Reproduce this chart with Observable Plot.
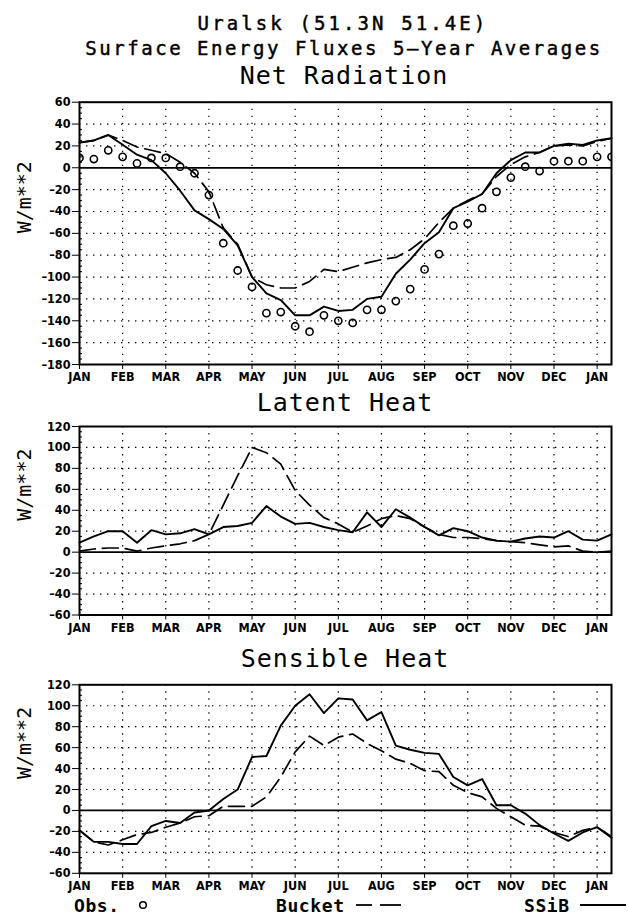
<!DOCTYPE html>
<html><head><meta charset="utf-8">
<script src="https://cdn.jsdelivr.net/npm/d3@7"></script>
<script src="https://cdn.jsdelivr.net/npm/@observablehq/plot@0.6"></script>
<style>
body{margin:0;background:#fff;}
#root{position:relative;width:628px;height:919px;overflow:hidden;background:#fff;}
#root > div.p{position:absolute;left:0;}
#overlay{position:absolute;left:0;top:0;pointer-events:none;}
</style></head>
<body><div id="root">
<div class="p" id="p1" style="top:91px"></div>
<div class="p" id="p2" style="top:416px"></div>
<div class="p" id="p3" style="top:674px"></div>
<svg id="overlay" width="628" height="919" xmlns="http://www.w3.org/2000/svg">
  <g font-family="'DejaVu Sans Mono', monospace" fill="#000" text-anchor="middle">
    <text x="343" y="30" font-size="19" stroke="#000" stroke-width="0.45" letter-spacing="3.1">Uralsk (51.3N 51.4E)</text>
    <text x="344" y="55" font-size="19" stroke="#000" stroke-width="0.45" letter-spacing="2.55">Surface Energy Fluxes 5–Year Averages</text>
    <text x="344" y="84" font-size="25" letter-spacing="1">Net Radiation</text>
    <text x="345" y="411" font-size="25" letter-spacing="1">Latent Heat</text>
    <text x="345" y="667" font-size="25" letter-spacing="1">Sensible Heat</text>
  </g>
  <g font-family="'DejaVu Sans Mono', monospace" font-weight="bold" font-size="18" letter-spacing="0.6" fill="#000">
    <text x="74" y="912">Obs.</text>
    <circle cx="143" cy="905" r="3.3" fill="none" stroke="#000" stroke-width="1.5"/>
    <text x="276" y="912">Bucket</text>
    <line x1="356" y1="905" x2="372" y2="905" stroke="#000" stroke-width="1.8"/>
    <line x1="380" y1="905" x2="401" y2="905" stroke="#000" stroke-width="1.8"/>
    <text x="524" y="912">SSiB</text>
    <line x1="580" y1="905" x2="626" y2="905" stroke="#000" stroke-width="1.8"/>
  </g>
</svg>
</div>
<script>
// dekad index (36 per year), Jan 1 = 0
const dekad = [0,1,2,3,4,5,6,7,8,9,10,11,12,13,14,15,16,17,18,19,20,21,22,23,24,25,26,27,28,29,30,31,32,33,34,35,36,37];
const monthPos = [0,3,6,9,12,15,18,21,24,27,30,33,36];
const monthLabels = ["JAN","FEB","MAR","APR","MAY","JUN","JUL","AUG","SEP","OCT","NOV","DEC","JAN"];

// Net Radiation
const netObs    = [9,8,16,10,4,9,9,1,-5,-25,-69,-94,-109,-133,-132,-145,-150,-135,-140,-142,-130,-130,-122,-111,-93,-79,-53,-51,-37,-22,-9,1,-3,6,6,6,10,10];
const netSSiB   = [23,25,30,21,12,7,-5,-21,-39,-47,-56,-71,-100,-115,-121,-135,-135,-127,-131,-130,-120,-118,-97,-84,-69,-59,-37,-31,-24,-5,7,14,14,20,22,21,25,27];
const netBucket = [23,25,30,25,19,16,13,5,-5,-22,-55,-70,-100,-107,-110,-110,-104,-93,-95,-91,-87,-84,-82,-75,-65,-50,-37,-30,-24,-8,3,10,14,20,21,20,24,27];
const netTicks  = [-180,-160,-140,-120,-100,-80,-60,-40,-20,0,20,40,60];

// Latent Heat
const latSSiB   = [9,15,20,20,9,21,17,18,22,17,24,25,28,44,34,27,28,24,21,19,38,24,41,33,24,16,23,20,14,11,10,13,15,14,20,12,11,17];
const latBucket = [1,3,4,4,1,4,6,8,11,17,45,73,100,95,84,59,45,33,27,19,25,32,35,32,24,17,14,14,13,11,10,9,7,5,6,1,0,1];
const latTicks  = [-60,-40,-20,0,20,40,60,80,100,120];

// Sensible Heat
const senSSiB   = [-19,-30,-30,-32,-32,-15,-10,-12,-2,0,11,20,51,52,81,100,111,93,107,106,86,94,62,58,55,54,32,24,30,5,5,-3,-14,-22,-29,-21,-16,-26];
const senBucket = [-19,-30,-33,-28,-23,-21,-16,-12,-6,-5,4,4,4,13,32,56,71,62,70,73,64,57,49,45,38,37,24,17,13,2,-6,-14,-15,-21,-25,-19,-16,-25];
const senTicks  = [-60,-40,-20,0,20,40,60,80,100,120];

const tickFont = "'Liberation Sans Narrow','DejaVu Sans Condensed','Arial Narrow',sans-serif";
const dots = "1.4,5.6";

function panel({ticks, ssib, bucket, obs, height, marginTop, marginBottom}) {
  const rows = dekad.map((d, i) => ({x: d, ssib: ssib[i], bucket: bucket[i], obs: obs ? obs[i] : null}));
  const lo = ticks[0], hi = ticks[ticks.length - 1];
  const inner = ticks.filter(t => t !== lo && t !== hi && t !== 0);
  const minor = d3.range(lo + 5, hi, 5).filter(v => v % 20 !== 0);
  const marks = [
    Plot.ruleY(inner, {stroke: "#000", strokeWidth: 1.2, strokeDasharray: dots}),
    Plot.ruleX(monthPos.slice(1), {stroke: "#000", strokeWidth: 1.2, strokeDasharray: dots}),
    Plot.ruleY(minor, {x1: 0, x2: 0.2, stroke: "#000", strokeWidth: 1.2}),
    Plot.ruleY([0], {stroke: "#000", strokeWidth: 1.7}),
    Plot.line(rows, {x: "x", y: "bucket", stroke: "#000", strokeWidth: 1.7, strokeDasharray: "16,7"}),
    Plot.line(rows, {x: "x", y: "ssib", stroke: "#000", strokeWidth: 1.9})
  ];
  if (obs) marks.push(Plot.dot(rows, {x: "x", y: "obs", r: 3.6, stroke: "#000", strokeWidth: 1.6, fill: "none", clip: true}));
  marks.push(Plot.frame({stroke: "#000", strokeWidth: 2}));
  marks.push(Plot.text(["W/m**2"], {frameAnchor: "left", dx: -55, rotate: -90, text: d => d,
    fontSize: 20, fontFamily: "'DejaVu Sans Mono', monospace", fontWeight: "normal", fill: "#000"}));
  return Plot.plot({
    width: 628, height, marginLeft: 79, marginRight: 17, marginTop, marginBottom,
    style: {fontFamily: tickFont, fontSize: "12.5px", fontWeight: "bold", color: "#000", background: "#fff"},
    x: {domain: [0, 37], ticks: monthPos, tickFormat: d => monthLabels[monthPos.indexOf(d)], tickSize: 5, tickPadding: 3, label: null},
    y: {domain: [lo, hi], ticks: ticks, tickFormat: d => d < 0 ? "–" + Math.abs(d) : String(d), tickSize: 7, tickPadding: 2, label: null},
    marks
  });
}

document.getElementById("p1").append(panel({ticks: netTicks, ssib: netSSiB, bucket: netBucket, obs: netObs, height: 300, marginTop: 10.7, marginBottom: 27}));
document.getElementById("p2").append(panel({ticks: latTicks, ssib: latSSiB, bucket: latBucket, obs: null, height: 224, marginTop: 10, marginBottom: 25.5}));
document.getElementById("p3").append(panel({ticks: senTicks, ssib: senSSiB, bucket: senBucket, obs: null, height: 226, marginTop: 10.3, marginBottom: 27.2}));
</script>
</body></html>
